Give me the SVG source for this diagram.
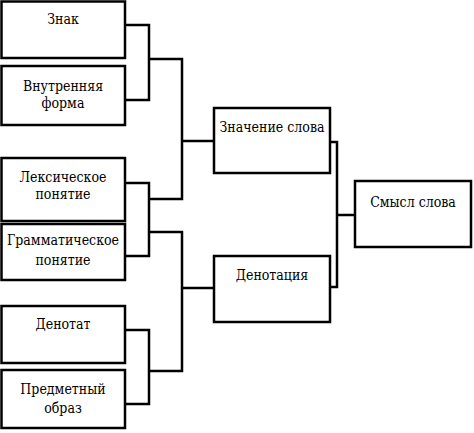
<svg xmlns="http://www.w3.org/2000/svg" width="474" height="433" viewBox="0 0 474 433">
<style>
rect{fill:#fff;stroke:#000;stroke-width:2.5}
path{fill:none;stroke:#000;stroke-width:2.5}
text{font-family:"DejaVu Serif Condensed","DejaVu Serif",serif;font-stretch:condensed;font-size:14px;fill:#000;text-anchor:middle}
</style>
<rect x="0" y="0" width="474" height="433" style="stroke:none"/>
<g id="connectors">
<path d="M125,25 H149 V100 H125"/>
<path d="M149,59 H182 V199 H149"/>
<path d="M182,141 H214"/>
<path d="M125,183 H149 V256 H125"/>
<path d="M149,232 H182 V371 H149"/>
<path d="M125,330 H149 V404 H125"/>
<path d="M182,288 H214"/>
<path d="M330,142 H337 V287 H330"/>
<path d="M337,215 H355"/>
</g>
<g id="znak"><rect x="1.5" y="1.5" width="123.5" height="56.5"/><text x="63" y="24">Знак</text></g>
<g id="vnutr"><rect x="1.5" y="66" width="123.5" height="59"/><text x="63" y="91">Внутренняя</text><text x="63" y="108">форма</text></g>
<g id="leks"><rect x="1.5" y="158" width="123.5" height="63"/><text x="63" y="182">Лексическое</text><text x="63" y="199">понятие</text></g>
<g id="gramm"><rect x="1.5" y="224" width="123.5" height="56"/><text x="63" y="245">Грамматическое</text><text x="63" y="265">понятие</text></g>
<g id="denotat"><rect x="1.5" y="306" width="123.5" height="57"/><text x="63" y="329">Денотат</text></g>
<g id="predm"><rect x="1.5" y="370" width="123.5" height="58"/><text x="63" y="394">Предметный</text><text x="63" y="413">образ</text></g>
<g id="znachenie"><rect x="214" y="108" width="116" height="65"/><text x="272" y="132">Значение слова</text></g>
<g id="denotacia"><rect x="214" y="256" width="116" height="66"/><text x="272" y="280">Денотация</text></g>
<g id="smysl"><rect x="355" y="181" width="116" height="66"/><text x="413" y="207">Смысл слова</text></g>
</svg>
